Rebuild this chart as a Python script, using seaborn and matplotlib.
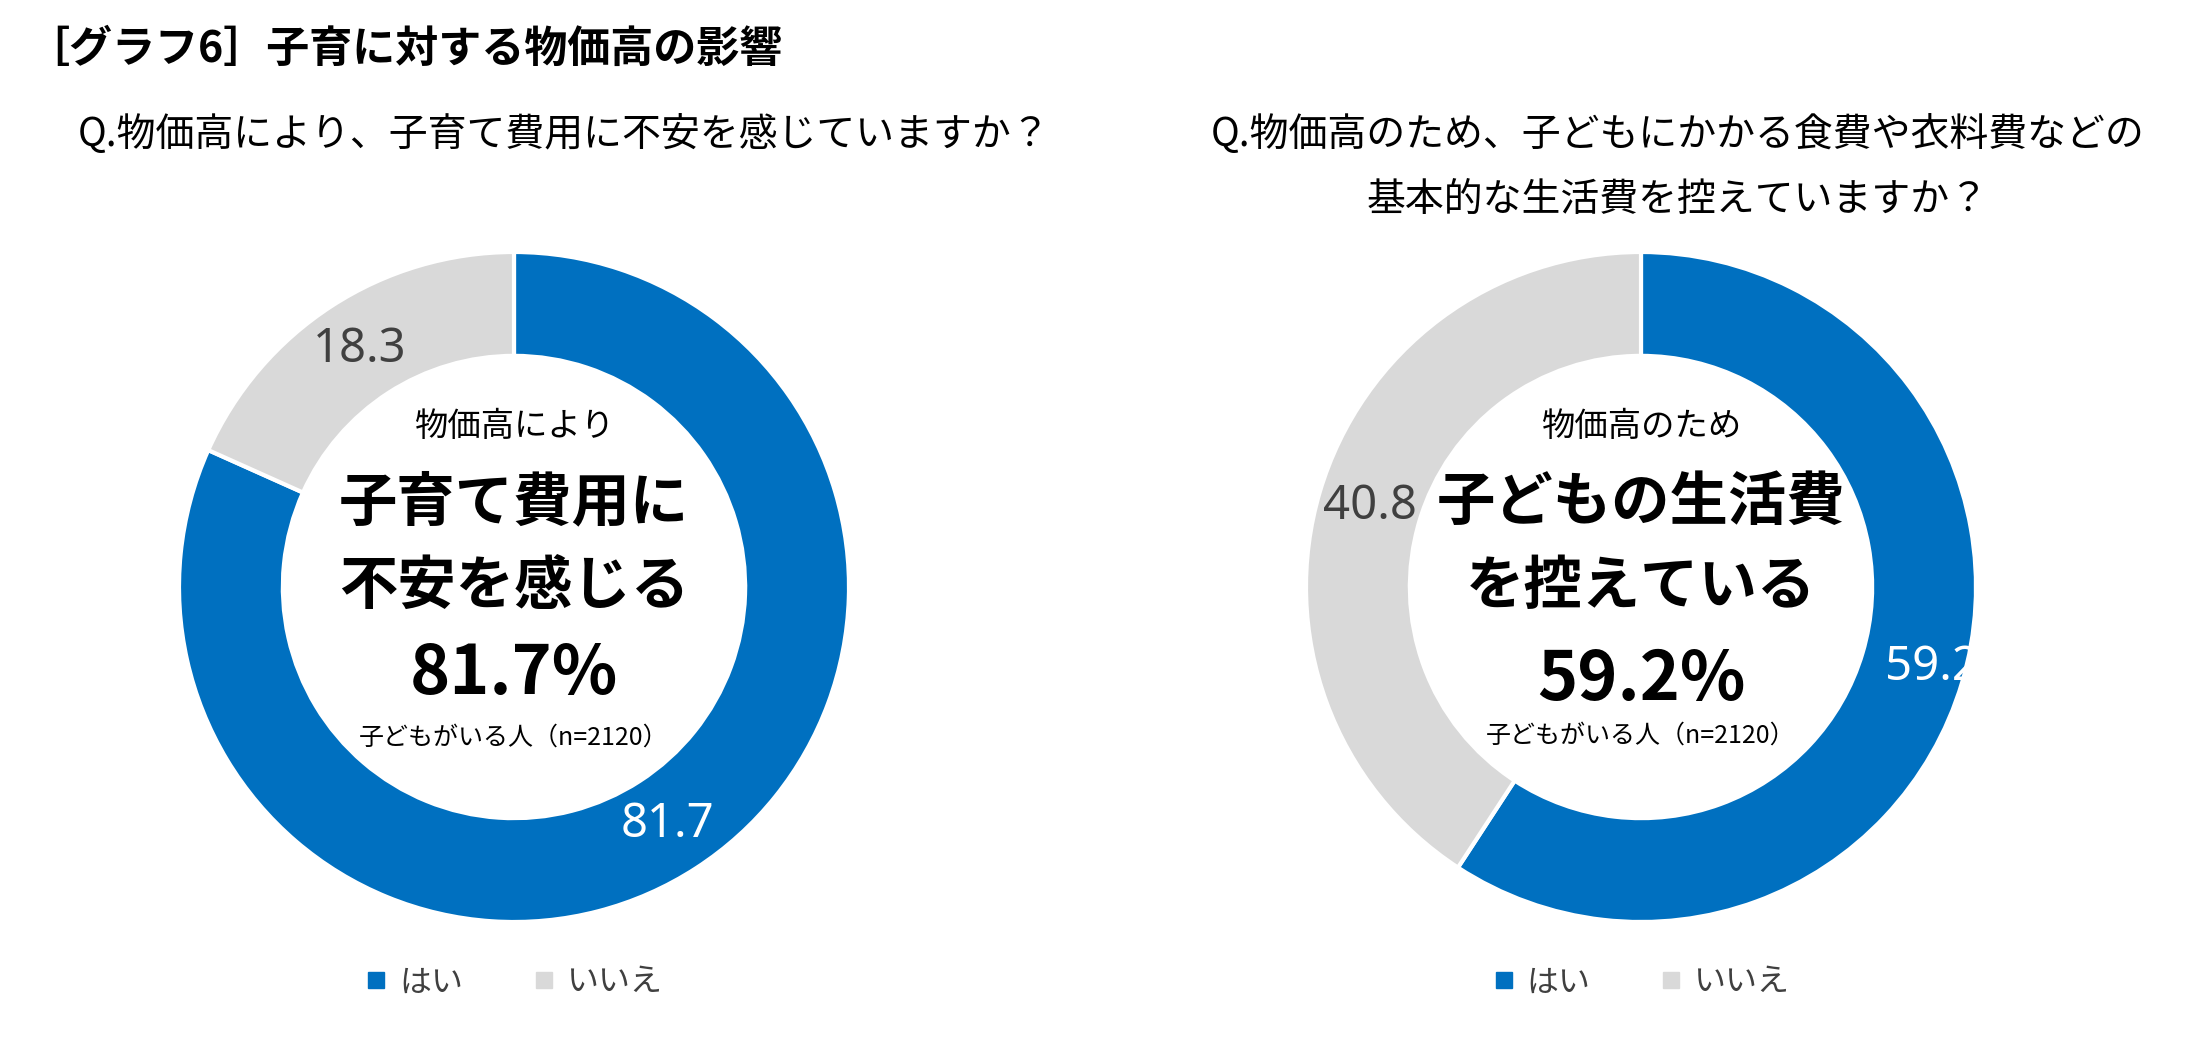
import matplotlib
matplotlib.use("Agg")
import matplotlib.pyplot as plt
from matplotlib.lines import Line2D
import seaborn as sns

# Data
answers = ["はい", "いいえ"]
anxiety_pct = [81.7, 18.3]
cutback_pct = [59.2, 40.8]

title = "［グラフ6］子育に対する物価高の影響"
q1 = "Q.物価高により、子育て費用に不安を感じていますか？"
q2_lines = ["Q.物価高のため、子どもにかかる食費や衣料費などの", "基本的な生活費を控えていますか？"]
center1 = ["物価高により", "子育て費用に", "不安を感じる", "81.7%"]
center2 = ["物価高のため", "子どもの生活費", "を控えている", "59.2%"]
base_note = "子どもがいる人（n=2120）"

sns.set_theme(style="white")
plt.rcParams['font.family'] = ['Noto Sans CJK JP', 'DejaVu Sans']

colors = ["#0070C0", "#D9D9D9"]
label_colors = ["white", "#404040"]

W, H = 2190, 1047
fig = plt.figure(figsize=(W / 100, H / 100), dpi=100)
fig.patch.set_facecolor("white")

R = 335  # donut radius in px


def donut(cx, cy, values, center_lines, ty):
    ax = fig.add_axes([(cx - R) / W, (H - cy - R) / H, 2 * R / W, 2 * R / H])
    wedges, _, autotexts = ax.pie(
        values, colors=colors, startangle=90, counterclock=False,
        autopct=lambda p: f"{p:.1f}", pctdistance=0.845,
        wedgeprops=dict(width=0.31, edgecolor="white", linewidth=3))
    for t, c in zip(autotexts, label_colors):
        t.set_color(c)
        t.set_fontsize(34)
        t.set_family(['Noto Sans', 'DejaVu Sans'])
    ax.set_xlim(-1, 1)
    ax.set_ylim(-1, 1)
    ax.set_aspect("equal")
    ax.text(0, ty[0], center_lines[0], ha="center", va="center", fontsize=24, color="black")
    ax.text(0, ty[1], center_lines[1], ha="center", va="center", fontsize=42, fontweight="bold", color="black")
    ax.text(0, ty[2], center_lines[2], ha="center", va="center", fontsize=42, fontweight="bold", color="black")
    ax.text(0, ty[3], center_lines[3], ha="center", va="center", fontsize=49, fontweight="bold", color="black")
    ax.text(0, ty[4], base_note, ha="center", va="center", fontsize=18, color="black")

    handles = [Line2D([0], [0], marker="s", linestyle="", markersize=12,
                      markerfacecolor=c, markeredgecolor=c) for c in colors]
    leg = ax.legend(handles, answers, loc="center", ncol=2, frameon=False,
                    bbox_to_anchor=(0.5, -0.09), fontsize=23, handletextpad=0.35,
                    columnspacing=2.2, handlelength=0.7)
    for t in leg.get_texts():
        t.set_color("#404040")
    return ax, autotexts


ax1, lab1 = donut(514, 587, anxiety_pct, center1, [0.48, 0.25, 0.0, -0.26, -0.45])
ax2, lab2 = donut(1641, 587, cutback_pct, center2, [0.48, 0.25, 0.0, -0.28, -0.445])
# nudge the "59.2" label outward a bit, as in the original
x, y = lab2[0].get_position()
lab2[0].set_position((x + 0.06, y))

fig.text(0.012, 1 - 49 / H, title, ha="left", va="center", fontsize=31, fontweight="bold", color="black")
fig.text(564 / W, 1 - 135 / H, q1, ha="center", va="center", fontsize=28, color="black")
fig.text(1678 / W, 1 - 135 / H, q2_lines[0], ha="center", va="center", fontsize=28, color="black")
fig.text(1678 / W, 1 - 200 / H, q2_lines[1], ha="center", va="center", fontsize=28, color="black")

plt.savefig("out.png", dpi=100)
